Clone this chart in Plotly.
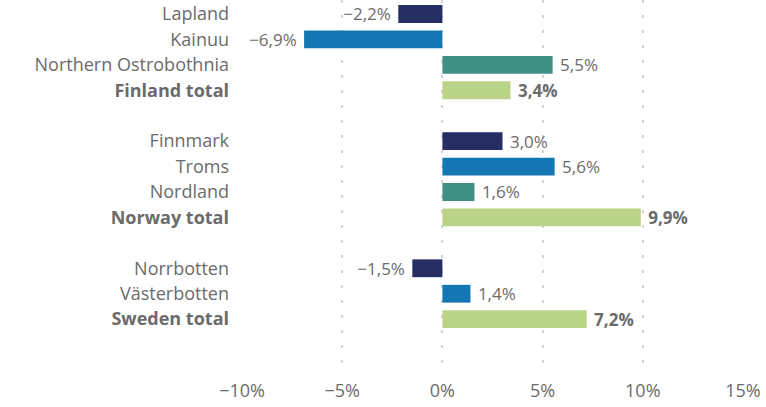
import plotly.graph_objects as go

finland_regions = ["Lapland", "Kainuu", "Northern Ostrobothnia", "Finland total"]
finland_values = [-2.2, -6.9, 5.5, 3.4]
norway_regions = ["Finnmark", "Troms", "Nordland", "Norway total"]
norway_values = [3.0, 5.6, 1.6, 9.9]
sweden_regions = ["Norrbotten", "Västerbotten", "Sweden total"]
sweden_values = [-1.5, 1.4, 7.2]

x_tick_values = [-10, -5, 0, 5, 10, 15]

region_colors = ["#252d62", "#1476b2", "#408f85"]
total_color = "#b9d488"
text_color = "#6b6b6b"
FONT = "Open Sans"


def pct(v):
    s = (f"{abs(v):.1f}" if isinstance(v, float) else f"{abs(v)}").replace(".", ",") + "%"
    return ("\u2212" + s) if v < 0 else s


groups = [
    (finland_regions, finland_values),
    (norway_regions, norway_values),
    (sweden_regions, sweden_values),
]

ys, xs, cols, labels, texts = [], [], [], [], []
pos = 0
for regions, values in groups:
    n = len(regions)
    for i, (r, v) in enumerate(zip(regions, values)):
        is_total = i == n - 1
        ys.append(pos)
        xs.append(v)
        cols.append(total_color if is_total else region_colors[i])
        s = pct(v)
        s = f"<b>{s}</b>" if is_total else s
        texts.append(s + " " if v < 0 else " " + s)
        labels.append(f"<b>{r}</b>" if is_total else r)
        pos += 1
    pos += 1

fig = go.Figure(
    go.Bar(
        x=xs,
        y=ys,
        orientation="h",
        marker=dict(color=cols, line=dict(width=0)),
        width=0.7,
        text=texts,
        textposition="outside",
        constraintext="none",
        cliponaxis=False,
        textfont=dict(family=FONT, size=17, color=text_color),
        hoverinfo="skip",
    )
)

fig.update_layout(
    width=766,
    height=407,
    margin=dict(l=242, r=23, t=0, b=37),
    paper_bgcolor="white",
    plot_bgcolor="white",
    showlegend=False,
    separators=",.",
    font=dict(family=FONT, size=17, color=text_color),
)

fig.update_xaxes(
    range=[-10, 15],
    tickmode="array",
    tickvals=x_tick_values,
    ticktext=[pct(v) for v in x_tick_values],
    showgrid=True,
    gridcolor="#d3d3d3",
    gridwidth=2,
    griddash="3px,12px",
    zeroline=False,
    showline=False,
    ticks="",
    ticklabelstandoff=8,
    tickfont=dict(family=FONT, size=18, color=text_color),
)

fig.update_yaxes(
    range=[14.0, -0.55],
    tickmode="array",
    tickvals=ys,
    ticktext=labels,
    showgrid=False,
    zeroline=False,
    showline=False,
    ticks="",
    ticklabelstandoff=12,
    tickfont=dict(family=FONT, size=18, color=text_color),
)

fig.write_html(
    "out.html",
    config={"displayModeBar": False, "staticPlot": True},
    post_script="document.body.style.margin='0';document.body.style.overflow='hidden';",
)
